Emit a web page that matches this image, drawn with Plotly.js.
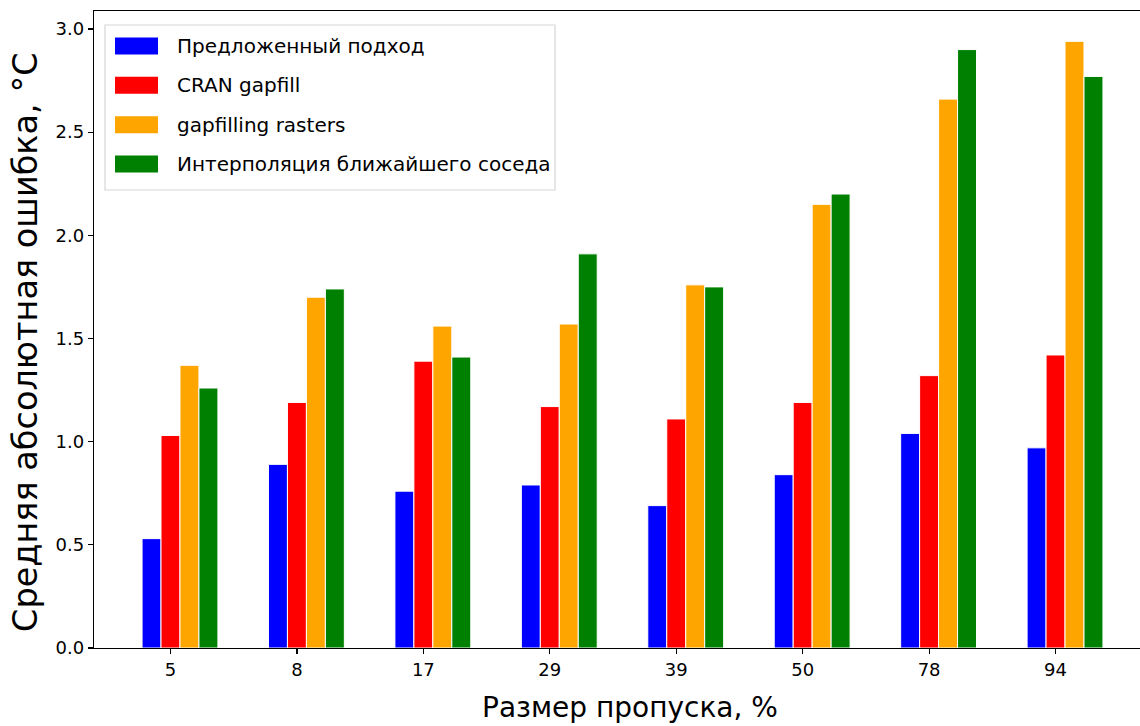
<!DOCTYPE html>
<html>
<head>
<meta charset="utf-8">
<script src="https://cdn.plot.ly/plotly-3.0.1.min.js"></script>
<style>
  html, body { margin: 0; padding: 0; overflow: hidden; background: #ffffff; }
</style>
</head>
<body>
<div id="chart"></div>
<script>
// Gap sizes (% of missing pixels) shown on the x axis
const gapSizes = ['5', '8', '17', '29', '39', '50', '78', '94'];

// Series names for the legend
const seriesNames = [
  'Предложенный подход',
  'CRAN gapfill',
  'gapfilling rasters',
  'Интерполяция ближайшего соседа'
];

// Mean absolute error, °C, per method
const proposed          = [0.53, 0.89, 0.76, 0.79, 0.69, 0.84, 1.04, 0.97];
const cranGapfill       = [1.03, 1.19, 1.39, 1.17, 1.11, 1.19, 1.32, 1.42];
const gapfillingRasters = [1.37, 1.70, 1.56, 1.57, 1.76, 2.15, 2.66, 2.94];
const nearestNeighbour  = [1.26, 1.74, 1.41, 1.91, 1.75, 2.20, 2.90, 2.77];

// Y tick labels
const yTickValues = [0, 0.5, 1.0, 1.5, 2.0, 2.5, 3.0];
const yTickLabels = ['0.0', '0.5', '1.0', '1.5', '2.0', '2.5', '3.0'];

// Axis titles
const xTitle = 'Размер пропуска, %';
const yTitle = 'Средняя абсолютная ошибка, °C';

const seriesValues = [proposed, cranGapfill, gapfillingRasters, nearestNeighbour];
const seriesColors = ['#0000ff', '#ff0000', '#ffa500', '#008000'];

const FONT = 'DejaVu Sans, Liberation Sans, sans-serif';
const BAR_WIDTH = 0.15;
const positions = gapSizes.map((_, i) => i);

// Bars: each series shifted by one bar width, the second one centred on the tick
const traces = seriesValues.map((vals, k) => ({
  type: 'bar',
  name: seriesNames[k],
  x: positions,
  y: vals,
  width: BAR_WIDTH,
  offset: (k - 1.5) * BAR_WIDTH,
  marker: { color: seriesColors[k], line: { color: '#ffffff', width: 1 } },
  showlegend: false,
  hoverinfo: 'x+y'
}));

// Plot-area geometry in pixels
const W = 1160, H = 726;
const M = { l: 94, r: 9, t: 11, b: 78 };
const plotW = W - M.l - M.r;
const plotH = H - M.t - M.b;
const px = x => (x - M.l) / plotW;          // page x -> paper
const py = y => (H - M.b - y) / plotH;      // page y -> paper

// Legend box drawn with shapes and annotations
const shapes = [{
  type: 'rect', xref: 'paper', yref: 'paper', layer: 'above',
  x0: px(105), x1: px(555), y0: py(190), y1: py(25),
  fillcolor: 'rgba(255,255,255,0.85)',
  line: { color: '#d6d6d6', width: 1.2 }
}];
const annotations = [];
const rowY = [46, 85.3, 124.7, 164];
seriesNames.forEach((name, k) => {
  shapes.push({
    type: 'rect', xref: 'paper', yref: 'paper', layer: 'above',
    x0: px(115), x1: px(158), y0: py(rowY[k] + 8.5), y1: py(rowY[k] - 8.5),
    fillcolor: seriesColors[k],
    line: { width: 0 }
  });
  annotations.push({
    xref: 'paper', yref: 'paper',
    x: px(175), y: py(rowY[k]),
    xanchor: 'left', yanchor: 'middle',
    text: name, showarrow: false,
    font: { family: FONT, size: 20, color: '#000000' }
  });
});

// Axis titles as free annotations
annotations.push({
  xref: 'paper', yref: 'paper',
  x: px(630), y: py(707),
  xanchor: 'center', yanchor: 'middle',
  text: xTitle, showarrow: false,
  font: { family: FONT, size: 28, color: '#000000' }
});
annotations.push({
  xref: 'paper', yref: 'paper',
  x: px(25), y: py(342),
  xanchor: 'center', yanchor: 'middle',
  textangle: -90,
  text: yTitle, showarrow: false,
  font: { family: FONT, size: 33.5, color: '#000000' }
});

const layout = {
  width: W,
  height: H,
  margin: { l: M.l, r: M.r, t: M.t, b: M.b, pad: 0 },
  paper_bgcolor: '#ffffff',
  plot_bgcolor: '#ffffff',
  barmode: 'overlay',
  font: { family: FONT, color: '#000000' },
  xaxis: {
    range: [-0.605, 7.755],
    tickmode: 'array',
    tickvals: positions,
    ticktext: gapSizes,
    showgrid: false,
    zeroline: false,
    showline: true,
    mirror: true,
    linecolor: '#000000',
    linewidth: 1.3,
    ticks: 'outside',
    ticklen: 5,
    tickwidth: 1.2,
    tickcolor: '#000000',
    tickfont: { family: FONT, size: 18, color: '#000000' },
    automargin: false
  },
  yaxis: {
    range: [0, 3.087],
    tickmode: 'array',
    tickvals: yTickValues,
    ticktext: yTickLabels,
    showgrid: false,
    zeroline: false,
    showline: true,
    mirror: true,
    linecolor: '#000000',
    linewidth: 1.3,
    ticks: 'outside',
    ticklen: 5,
    tickwidth: 1.2,
    tickcolor: '#000000',
    tickfont: { family: FONT, size: 18, color: '#000000' },
    automargin: false
  },
  shapes: shapes,
  annotations: annotations
};

Plotly.newPlot('chart', traces, layout, { displayModeBar: false, staticPlot: true });
</script>
</body>
</html>
